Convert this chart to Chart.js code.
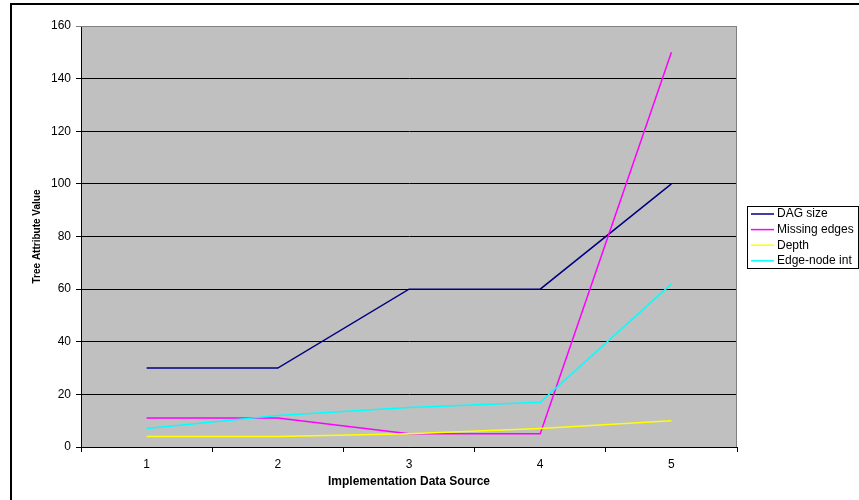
<!DOCTYPE html>
<html>
<head>
<meta charset="utf-8">
<script src="https://cdn.jsdelivr.net/npm/chart.js@4/dist/chart.umd.min.js"></script>
<style>
  html, body { margin: 0; padding: 0; background: #ffffff; }
  #wrap { width: 859px; height: 500px; }
</style>
</head>
<body>
<div id="wrap"><canvas id="c" width="859" height="500"></canvas></div>
<script>
// Implementation data sources along the x axis
const sources = ['1', '2', '3', '4', '5'];

// Tree attribute series
const dagSize      = [30, 30, 60, 60, 100];
const missingEdges = [11, 11, 5, 5, 150];
const depth        = [4, 4, 5, 7, 10];
const edgeNodeInt  = [7, 12, 15, 17, 62];

// Value axis range
const yMin = 0, yMax = 160, yStep = 20;

const FONT = '"Liberation Sans", Arial, sans-serif';

// Frame, plot-area fill and border, and a boxed legend in the Excel style
const excelStyle = {
  id: 'excelStyle',
  beforeDraw(chart) {
    const { ctx, chartArea: a } = chart;
    ctx.save();
    ctx.fillStyle = '#ffffff';
    ctx.fillRect(0, 0, chart.width, chart.height);
    ctx.fillStyle = '#c0c0c0';
    ctx.fillRect(a.left, a.top, a.right - a.left, a.bottom - a.top);
    ctx.restore();
  },
  beforeDatasetsDraw(chart) {
    const { ctx, chartArea: a } = chart;
    ctx.save();
    ctx.strokeStyle = '#808080';
    ctx.lineWidth = 1;
    ctx.beginPath();
    ctx.moveTo(a.left, a.top + 0.5);
    ctx.lineTo(a.right - 0.5, a.top + 0.5);
    ctx.lineTo(a.right - 0.5, a.bottom);
    ctx.stroke();
    ctx.restore();
  },
  afterDraw(chart) {
    const { ctx } = chart;
    ctx.save();
    // outer chart frame
    ctx.strokeStyle = '#000000';
    ctx.lineWidth = 2;
    ctx.beginPath();
    ctx.moveTo(11, chart.height);
    ctx.lineTo(11, 4);
    ctx.lineTo(chart.width, 4);
    ctx.stroke();

    // legend box
    const bx = 747.5, by = 206.5, bw = 111, bh = 62;
    ctx.fillStyle = '#ffffff';
    ctx.fillRect(bx, by, bw, bh);
    ctx.lineWidth = 1;
    ctx.strokeStyle = '#000000';
    ctx.strokeRect(bx, by, bw, bh);
    ctx.font = '12px ' + FONT;
    ctx.textBaseline = 'middle';
    ctx.textAlign = 'left';
    chart.data.datasets.forEach((ds, i) => {
      const y = 214 + i * 15.6;
      ctx.strokeStyle = ds.borderColor;
      ctx.lineWidth = 1.5;
      ctx.beginPath();
      ctx.moveTo(751, y);
      ctx.lineTo(774, y);
      ctx.stroke();
      ctx.fillStyle = '#000000';
      ctx.fillText(ds.label, 777, y);
    });
    ctx.restore();
  }
};

const series = [
  { label: 'DAG size',      data: dagSize,      color: '#000080' },
  { label: 'Missing edges', data: missingEdges, color: '#ff00ff' },
  { label: 'Depth',         data: depth,        color: '#ffff00' },
  { label: 'Edge-node int', data: edgeNodeInt,  color: '#00ffff' }
];

new Chart(document.getElementById('c'), {
  type: 'line',
  data: {
    labels: sources,
    datasets: series.map((s, i) => ({
      label: s.label,
      data: s.data,
      borderColor: s.color,
      backgroundColor: s.color,
      borderWidth: 1.5,
      pointRadius: 0,
      tension: 0,
      fill: false,
      order: series.length - i
    }))
  },
  options: {
    responsive: false,
    animation: false,
    devicePixelRatio: 1,
    layout: { padding: { top: 26, right: 122, left: 31, bottom: 0 } },
    plugins: {
      legend: { display: false },
      tooltip: { enabled: false }
    },
    scales: {
      x: {
        type: 'category',
        offset: true,
        grid: {
          offset: true,
          drawOnChartArea: false,
          drawTicks: true,
          tickLength: 5,
          color: '#000000'
        },
        border: { color: '#000000', width: 1 },
        ticks: {
          color: '#000000',
          font: { family: FONT, size: 12 },
          padding: 5,
          maxRotation: 0
        },
        title: {
          display: true,
          text: 'Implementation Data Source',
          color: '#000000',
          font: { family: FONT, size: 12, weight: 'bold' },
          padding: { top: 6, bottom: 11 }
        },
        afterFit(scale) { scale.height = 53; }
      },
      y: {
        min: yMin,
        max: yMax,
        grid: {
          color: (c) => (c.tick && c.tick.value === yMax ? '#808080' : '#000000'),
          drawTicks: true,
          tickLength: 5,
          lineWidth: 1
        },
        border: { color: '#000000', width: 1 },
        ticks: {
          stepSize: yStep,
          color: '#000000',
          font: { family: FONT, size: 12 },
          padding: 5
        },
        title: {
          display: true,
          text: 'Tree Attribute Value',
          color: '#000000',
          font: { family: FONT, size: 10, weight: 'bold' },
          padding: { top: 0, bottom: 0 }
        },
        afterFit(scale) { scale.width = 50; }
      }
    }
  },
  plugins: [excelStyle]
});
</script>
</body>
</html>
